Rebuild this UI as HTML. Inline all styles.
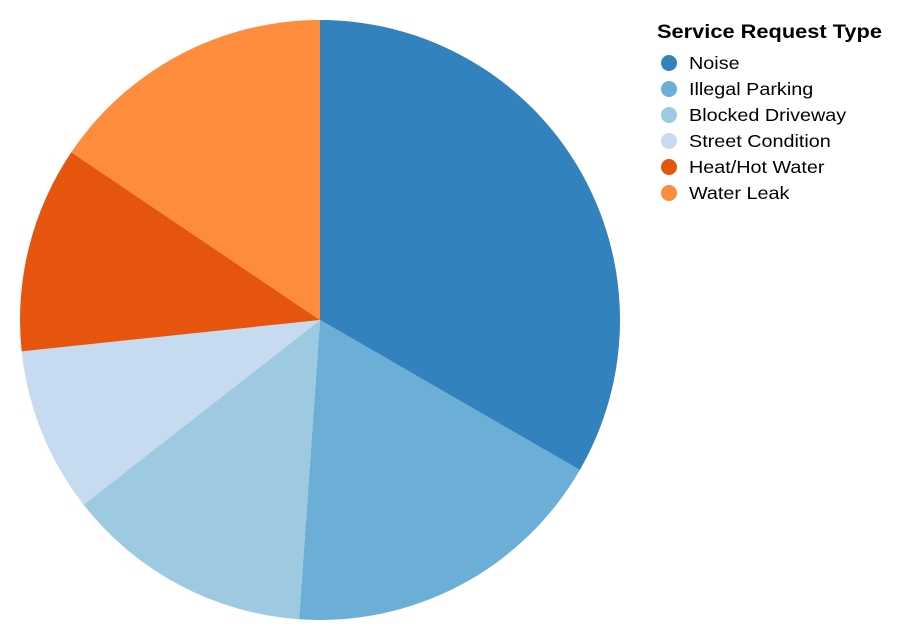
<!DOCTYPE html>
<html><head><meta charset="utf-8"><style>
html,body{margin:0;padding:0;background:#fff;}
svg{display:block;font-family:"Liberation Sans",Arial,sans-serif;}
</style></head><body>
<svg id="chart" width="904" height="640">
<g id="pie"></g>
<g id="legend">
<text x="657" y="38" font-size="19" font-weight="bold" fill="#000" textLength="225" lengthAdjust="spacingAndGlyphs">Service Request Type</text>
</g>
</svg>
<script>
const categories = ["Noise","Illegal Parking","Blocked Driveway","Street Condition","Heat/Hot Water","Water Leak"];
const values = [120,64,48,32,40,56];
const colors = ["#3182bd","#6baed6","#9ecae1","#c6dbef","#e6550d","#fd8d3c"];
const ns="http://www.w3.org/2000/svg";
const cx=320, cy=320, r=300;
const total=values.reduce((a,b)=>a+b,0);
const pie=document.getElementById('pie');
let a0=0;
values.forEach((v,i)=>{
  const a1=a0+v/total*2*Math.PI;
  const x0=cx+r*Math.sin(a0), y0=cy-r*Math.cos(a0);
  const x1=cx+r*Math.sin(a1), y1=cy-r*Math.cos(a1);
  const large=(a1-a0)>Math.PI?1:0;
  const p=document.createElementNS(ns,'path');
  p.setAttribute('d',`M${cx},${cy}L${x0},${y0}A${r},${r} 0 ${large} 1 ${x1},${y1}Z`);
  p.setAttribute('fill',colors[i]);
  
  
  pie.appendChild(p);
  a0=a1;
});
const lg=document.getElementById('legend');
categories.forEach((c,i)=>{
  const y=63+i*26;
  const g=document.createElementNS(ns,'g');
  
  
  const ci=document.createElementNS(ns,'circle');
  ci.setAttribute('cx',669);ci.setAttribute('cy',y);ci.setAttribute('r',8);ci.setAttribute('fill',colors[i]);
  
  
  const t=document.createElementNS(ns,'text');
  t.setAttribute('x',689);t.setAttribute('y',y+6);t.setAttribute('font-size',17.5);t.setAttribute('fill','#000');
  t.textContent=c;
  
  
  g.appendChild(ci);g.appendChild(t);lg.appendChild(g);
  const w=t.getComputedTextLength();
  t.setAttribute('textLength', (w*1.13).toFixed(1));
  t.setAttribute('lengthAdjust','spacingAndGlyphs');
});
</script>
</body></html>
